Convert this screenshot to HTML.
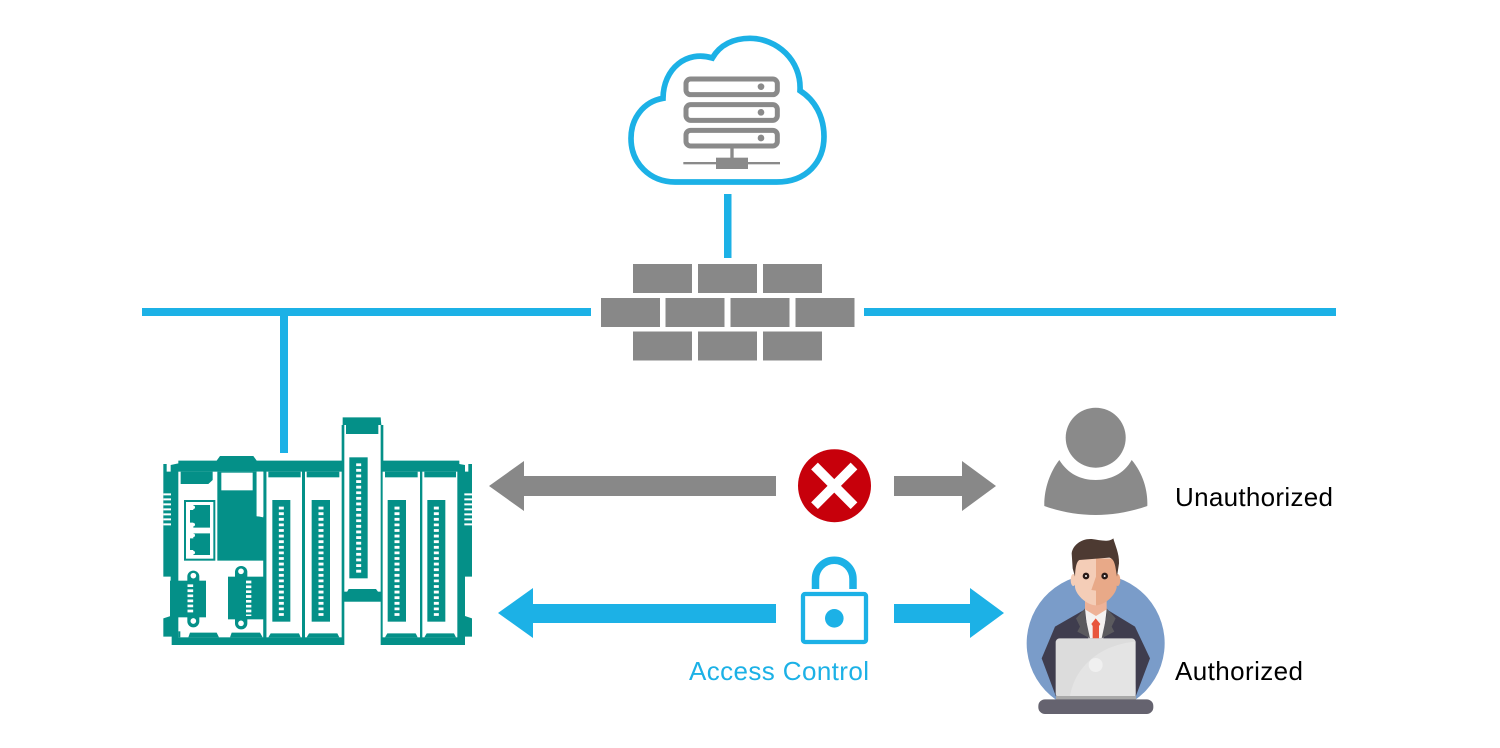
<!DOCTYPE html>
<html>
<head>
<meta charset="utf-8">
<style>
html,body{margin:0;padding:0;background:#fff;width:1500px;height:748px;overflow:hidden}
svg{display:block}
text{font-family:"Liberation Sans",sans-serif}
</style>
</head>
<body>
<svg width="1500" height="748" viewBox="0 0 1500 748" xmlns="http://www.w3.org/2000/svg">
<rect width="1500" height="748" fill="#fff"/>

<!-- Network lines -->
<g fill="#1cb1e6">
<rect x="142" y="308" width="449" height="8"/>
<rect x="864" y="308" width="472" height="8"/>
<rect x="724" y="194" width="7.5" height="64"/>
<rect x="280" y="316" width="8" height="137"/>
</g>

<!-- Cloud -->
<g transform="translate(620,30) scale(.33333)">
<path d="M165,456 L470,456 C560,456 612,395 612,320 C612,260 585,210 540,182 C545,90 470,25 390,25 C340,25 300,45 277,84 C200,60 130,115 129,205 C70,215 33,265 33,325 C33,400 90,456 165,456 Z" fill="#fff" stroke="#1cb1e6" stroke-width="17" stroke-linejoin="miter"/>
<g fill="none" stroke="#8a8a8a" stroke-width="15">
<rect x="198" y="147" width="274" height="47" rx="14"/>
<rect x="198" y="224" width="274" height="47" rx="14"/>
<rect x="198" y="301" width="274" height="47" rx="14"/>
</g>
<g fill="#8a8a8a">
<circle cx="423" cy="170" r="10"/>
<circle cx="423" cy="247" r="10"/>
<circle cx="423" cy="324" r="10"/>
<rect x="331" y="355" width="10" height="30"/>
<rect x="190" y="396" width="290" height="7"/>
<rect x="288" y="383" width="96" height="34"/>
</g>
</g>

<!-- Firewall -->
<g fill="#888">
<rect x="633" y="264" width="59" height="29"/>
<rect x="698" y="264" width="59" height="29"/>
<rect x="763" y="264" width="59" height="29"/>
<rect x="601" y="298" width="59" height="29"/>
<rect x="665.5" y="298" width="59" height="29"/>
<rect x="730.5" y="298" width="59" height="29"/>
<rect x="795.5" y="298" width="59" height="29"/>
<rect x="633" y="331.5" width="59" height="29"/>
<rect x="698" y="331.5" width="59" height="29"/>
<rect x="763" y="331.5" width="59" height="29"/>
</g>

<!-- Device -->
<g transform="translate(150,410) scale(.33333)">
<path fill="#049088" d="M40,162 L50,162 L50,185 L62,185 L62,165 L85,160 L85,152 L200,152 L210,138 L310,138 L320,152 L575,152 L575,45 L578,45 L578,22 L692,22 L694,45 L700,45 L700,152 L928,152 L928,162 L945,165 L945,185 L955,185 L955,162 L966,162 L966,500 L945,500 L945,618 L966,625 L966,680 L945,680 L945,705 L692,705 L692,575 L583,575 L583,705 L65,705 L65,680 L40,680 L40,625 L62,618 L62,500 L40,500 Z"/>
<!-- white panels -->
<g fill="#fff">
<rect x="85" y="185" width="255" height="497"/>
<rect x="349" y="185" width="107" height="497"/>
<rect x="465" y="185" width="110" height="497"/>
<rect x="583" y="45" width="109" height="500"/>
<rect x="698" y="185" width="112" height="497"/>
<rect x="817" y="185" width="105" height="497"/>
</g>
<!-- vents -->
<g fill="none" stroke="#fff" stroke-width="6">
<path d="M40,253H63M40,268H63M40,283H63M40,298H63M40,313H63M40,328H63M40,343H63"/>
<path d="M943,253H966M943,268H966M943,283H966M943,298H966M943,313H966M943,328H966M943,343H966"/>
</g>
<!-- CPU teal parts -->
<g fill="#049088">
<path d="M92,185 L188,185 L188,210 L175,222 L92,222 Z"/>
<path d="M202,185 L320,185 L320,318 L340,322 L345,322 L345,452 L202,452 Z"/>
<rect x="340" y="185" width="9" height="497"/>
<rect x="85" y="664" width="6" height="18"/>
<path d="M115,682 L120,668 L195,668 L200,668 L207,682 Z"/>
<path d="M240,682 L245,668 L330,668 L338,682 Z"/>
</g>
<rect x="214" y="188" width="94" height="53" fill="#fff"/>
<rect x="320" y="185" width="20" height="134" fill="#fff"/>
<!-- Ethernet -->
<rect x="105" y="273" width="88" height="176" fill="#fff" stroke="#049088" stroke-width="6"/>
<g fill="#049088">
<path d="M130,285 H180 V353 H130 V338 H120 V300 H130 Z"/>
<path d="M130,370 H180 V435 H130 V420 H120 V385 H130 Z"/>
</g>
<g fill="#fff">
<circle cx="130" cy="292" r="5"/><circle cx="130" cy="344" r="5"/>
<circle cx="130" cy="376" r="5"/><circle cx="130" cy="428" r="5"/>
</g>
<!-- Connectors -->
<g fill="#049088">
<rect x="60" y="512" width="108" height="110"/>
<rect x="112" y="482" width="36" height="170" rx="18"/>
<rect x="234" y="500" width="111" height="128"/>
<rect x="255" y="468" width="37" height="190" rx="18"/>
</g>
<g fill="#fff">
<circle cx="130" cy="497" r="8.5"/><circle cx="130" cy="633" r="8.5"/>
<circle cx="273" cy="484" r="8.5"/><circle cx="273" cy="640" r="8.5"/>
</g>
<line x1="121" y1="523" x2="121" y2="612" stroke="#fff" stroke-width="17" stroke-dasharray="8 7.2"/>
<line x1="296" y1="512" x2="296" y2="618" stroke="#fff" stroke-width="16" stroke-dasharray="8 6.5"/>
<!-- Module tabs and blocks -->
<g fill="#049088">
<rect x="355" y="185" width="97" height="17"/>
<rect x="470" y="185" width="98" height="17"/>
<rect x="588" y="45" width="97" height="27"/>
<rect x="705" y="185" width="98" height="17"/>
<rect x="823" y="185" width="95" height="17"/>
<rect x="367" y="270" width="54" height="365"/>
<rect x="485" y="270" width="55" height="365"/>
<rect x="598" y="142" width="55" height="363"/>
<rect x="713" y="270" width="55" height="365"/>
<rect x="832" y="270" width="54" height="365"/>
<path d="M355,682 L362,670 L447,670 L452,682 Z"/>
<path d="M470,682 L477,670 L562,670 L568,682 Z"/>
<path d="M705,682 L712,670 L797,670 L803,682 Z"/>
<path d="M823,682 L830,670 L912,670 L918,682 Z"/>
<path d="M583,575 L583,548 L590,548 L596,537 L678,537 L686,548 L692,548 L692,575 Z"/>
</g>
<g stroke="#fff" stroke-width="15" stroke-dasharray="8.5 8.3" fill="none">
<line x1="394" y1="290" x2="394" y2="618"/>
<line x1="513" y1="290" x2="513" y2="618"/>
<line x1="626" y1="160" x2="626" y2="488"/>
<line x1="741" y1="290" x2="741" y2="618"/>
<line x1="859" y1="290" x2="859" y2="618"/>
</g>
</g>

<!-- Arrows -->
<path fill="#888" d="M489,486 L524,461 L524,476 L776,476 L776,496 L524,496 L524,511 Z"/>
<path fill="#888" d="M996,486 L962,461 L962,476 L894,476 L894,496 L962,496 L962,511 Z"/>
<path fill="#1cb1e6" d="M498,613 L533,588 L533,604 L776,604 L776,623 L533,623 L533,638 Z"/>
<path fill="#1cb1e6" d="M1004,613 L970,588 L970,604 L894,604 L894,623 L970,623 L970,638 Z"/>

<!-- Denied -->
<circle cx="834.5" cy="485.7" r="36.5" fill="#c7000b"/>
<path d="M814.5,466 L854,505.7 M854,466 L814.5,505.7" stroke="#fff" stroke-width="9.5" fill="none"/>

<!-- Lock -->
<path d="M815.5,589 V579 A18.5,18.5 0 0 1 853,579 V589" fill="none" stroke="#1cb1e6" stroke-width="7.5"/>
<rect x="803" y="594" width="63" height="48" rx="2" fill="#fff" stroke="#1cb1e6" stroke-width="4.3"/>
<circle cx="834.3" cy="618.3" r="9.3" fill="#1cb1e6"/>

<!-- Unauthorized user -->
<circle cx="1095.7" cy="437.7" r="30" fill="#8a8a8a"/>
<path fill="#8a8a8a" d="M1059.3,460 C1068,474 1081,480 1095.7,480 C1110,480 1124,474 1131.7,460 C1142,472 1148,489 1147.3,506 C1130,512 1113,515 1095.7,515 C1078,515 1061,512 1044.3,506 C1044,489 1050,472 1059.3,460 Z"/>

<!-- Authorized user -->
<g transform="translate(1020,530) scale(.33333)">
<path fill="#7a9cc9" d="M109,510 A207,207 0 1 1 345,510 Z"/>
<path fill="#3f3d4e" d="M195,238 L105,290 L65,385 L110,505 L345,505 L390,385 L345,290 L260,238 Z"/>
<path fill="#f4f1f0" d="M195,238 L260,238 L250,325 L205,325 Z"/>
<path fill="#5b5a5e" d="M195,235 L168,265 L180,290 L172,305 L210,325 L196,260 Z"/>
<path fill="#5b5a5e" d="M260,235 L287,265 L275,290 L283,305 L245,325 L259,260 Z"/>
<path fill="#e8553c" d="M227,265 L241,282 L237,288 L237,325 L218,325 L218,288 L214,282 Z"/>
<path fill="#eeb297" d="M195,205 H260 V238 L228,258 L195,238 Z"/>
<ellipse cx="160" cy="150" rx="8" ry="18" fill="#f4cdb7"/>
<ellipse cx="293" cy="150" rx="8" ry="18" fill="#e8a988"/>
<path fill="#f4cdb7" d="M165,85 L165,172 C170,200 205,226 228,226 L240,120 L228,85 Z"/>
<path fill="#e8a988" d="M228,85 L228,140 L214,180 L228,182 L228,226 C250,226 285,200 290,172 L290,85 Z"/>
<path fill="#4d3a32" d="M155,70 C158,45 185,25 215,27 C240,30 265,38 280,25 C285,45 298,70 297,100 L291,140 L286,110 C283,95 278,85 268,83 L178,90 C170,95 166,110 165,140 L158,115 Z"/>
<circle cx="198" cy="138" r="10" fill="#2a1b18"/>
<circle cx="254" cy="138" r="10" fill="#2a1b18"/>
<circle cx="198" cy="138" r="3" fill="#fff"/>
<circle cx="254" cy="138" r="3" fill="#fff"/>
<rect x="107" y="325" width="240" height="178" rx="12" fill="#dcdcdc"/>
<path fill="#e4e4e4" d="M150,498 C165,410 240,345 345,335 L347,498 Z"/>
<circle cx="227" cy="405" r="21" fill="#f0f0f0"/>
<rect x="108" y="498" width="240" height="12" fill="#a9a9a9"/>
<rect x="55" y="508" width="345" height="44" rx="20" fill="#65636f"/>
</g>

<!-- Labels -->
<text x="1175" y="506" font-size="26" fill="#000" textLength="158" lengthAdjust="spacing">Unauthorized</text>
<text x="1175" y="680" font-size="26" fill="#000" textLength="128" lengthAdjust="spacing">Authorized</text>
<text x="689" y="680" font-size="26" fill="#1cb1e6" textLength="180" lengthAdjust="spacing">Access Control</text>
</svg>
</body>
</html>
